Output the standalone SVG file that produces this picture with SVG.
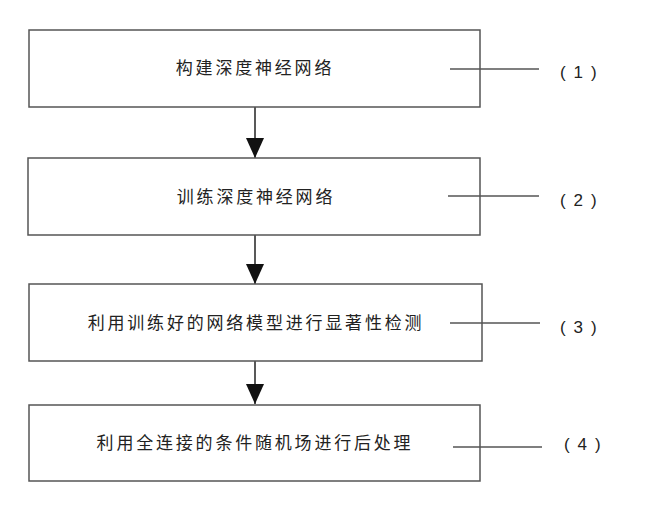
<svg xmlns="http://www.w3.org/2000/svg" width="658" height="513" viewBox="0 0 658 513">
<style>
.box{fill:#fff;stroke:#555;stroke-width:1.5}
.t{font-family:"Liberation Sans","Noto Sans CJK SC",sans-serif;font-size:17px;letter-spacing:2.8px;fill:#222;text-anchor:middle}
.n{font-family:"Liberation Sans",sans-serif;font-size:17px;letter-spacing:1.6px;fill:#222}
.lead{stroke:#555;stroke-width:1.3}
.edge{stroke:#222;stroke-width:1.5;fill:none}
</style>
<defs>
<marker id="ah" viewBox="0 0 20 18" refX="20" refY="9" markerWidth="20" markerHeight="18" markerUnits="userSpaceOnUse" orient="auto">
<path d="M0,0 L20,9 L0,18 Z" fill="#111"/>
</marker>
</defs>
<rect width="658" height="513" fill="#fff"/>
<g id="connectors">
<line class="edge" x1="255" y1="107" x2="255" y2="158" marker-end="url(#ah)"/>
<line class="edge" x1="255" y1="235" x2="255" y2="284" marker-end="url(#ah)"/>
<line class="edge" x1="255" y1="358" x2="255" y2="404" marker-end="url(#ah)"/>
</g>
<g id="node1">
<rect class="box" x="29" y="30" width="451" height="77"/>
<text class="t" x="255" y="74">构建深度神经网络</text>
<line class="lead" x1="450" y1="69" x2="539" y2="69"/>
<text class="n" x="560" y="78">( 1 )</text>
</g>
<g id="node2">
<rect class="box" x="28" y="158" width="452" height="77"/>
<text class="t" x="256" y="203">训练深度神经网络</text>
<line class="lead" x1="448" y1="196" x2="539" y2="196"/>
<text class="n" x="560" y="206">( 2 )</text>
</g>
<g id="node3">
<rect class="box" x="29" y="284" width="453" height="77"/>
<text class="t" x="256" y="329">利用训练好的网络模型进行显著性检测</text>
<line class="lead" x1="450" y1="323" x2="540" y2="323"/>
<text class="n" x="560" y="333">( 3 )</text>
</g>
<g id="node4">
<rect class="box" x="29" y="405" width="451" height="76"/>
<text class="t" x="255" y="449">利用全连接的条件随机场进行后处理</text>
<line class="lead" x1="453" y1="447" x2="542" y2="447"/>
<text class="n" x="564" y="450">( 4 )</text>
</g>
</svg>
